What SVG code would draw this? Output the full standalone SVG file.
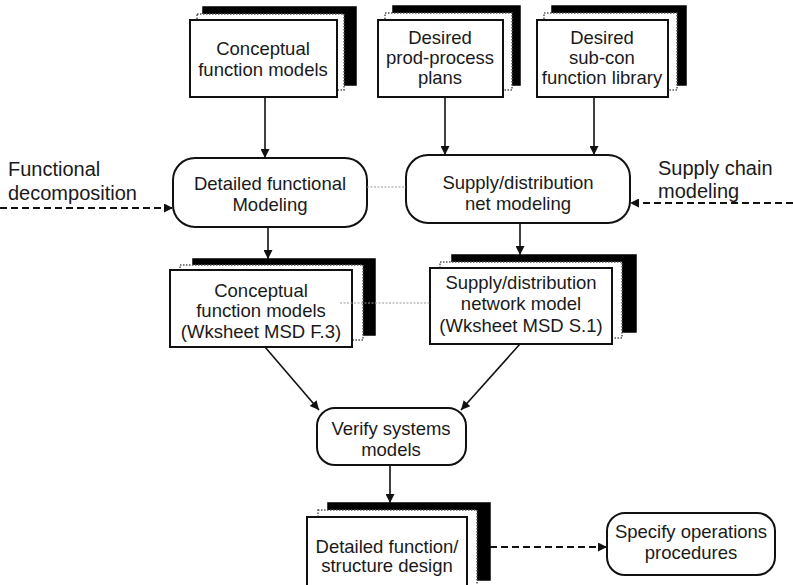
<svg xmlns="http://www.w3.org/2000/svg" width="793" height="585" viewBox="0 0 793 585">
  <defs>
    <style>
      .back { fill: #000; stroke: #000; stroke-width: 1.5; }
      .mid { fill: #fff; stroke: #555; stroke-width: 1.5; stroke-dasharray: 1.5 1.5; }
      .front { fill: #fff; stroke: #111; stroke-width: 2; }
      .round { fill: #fff; stroke: #111; stroke-width: 2; }
      .t { font-family: "Liberation Sans", Arial, sans-serif; font-size: 18.5px; fill: #1a1a1a; text-anchor: middle; }
      .side { font-family: "Liberation Sans", Arial, sans-serif; font-size: 20px; fill: #1a1a1a; }
      .arrow { fill: none; stroke: #111; stroke-width: 1.6; marker-end: url(#head); }
      .dash { fill: none; stroke: #111; stroke-width: 2; stroke-dasharray: 7 4; marker-end: url(#head); }
      .dot { fill: none; stroke: #999; stroke-width: 1.2; stroke-dasharray: 2 1.5; }
    </style>
    <marker id="head" viewBox="0 0 10 10" refX="10" refY="5" markerWidth="11" markerHeight="9" markerUnits="userSpaceOnUse" orient="auto">
      <path d="M0,0 L10,5 L0,10 z" fill="#111"/>
    </marker>
  </defs>

  <rect width="793" height="585" fill="#fff"/>

  <!-- side labels -->
  <g id="label-functional-decomposition">
    <text class="side" x="8" y="176">Functional</text>
    <text class="side" x="8" y="200">decomposition</text>
  </g>
  <g id="label-supply-chain">
    <text class="side" x="658" y="175">Supply chain</text>
    <text class="side" x="658" y="198">modeling</text>
  </g>

  <!-- document stacks and process nodes -->
  <g id="conceptual-models-in">
    <rect class="back" x="203" y="7" width="153" height="78"/>
    <rect class="mid" x="197" y="14" width="147" height="76"/>
    <rect class="front" x="190" y="20" width="147" height="77"/>
    <text class="t" x="263" y="55">Conceptual</text>
    <text class="t" x="263" y="76">function models</text>
  </g>

  <g id="prod-process-plans">
    <rect class="back" x="393" y="6" width="127" height="79"/>
    <rect class="mid" x="385" y="13" width="127" height="77"/>
    <rect class="front" x="378" y="20" width="125" height="77"/>
    <text class="t" x="440" y="44">Desired</text>
    <text class="t" x="440" y="64">prod-process</text>
    <text class="t" x="440" y="84">plans</text>
  </g>

  <g id="sub-con-library">
    <rect class="back" x="552" y="6" width="134" height="79"/>
    <rect class="mid" x="544" y="13" width="133" height="77"/>
    <rect class="front" x="537" y="20" width="131" height="77"/>
    <text class="t" x="602" y="44">Desired</text>
    <text class="t" x="602" y="64">sub-con</text>
    <text class="t" x="602" y="84">function library</text>
  </g>

  <g id="detailed-functional-modeling">
    <rect class="round" x="173" y="158" width="194" height="69" rx="22"/>
    <text class="t" x="270" y="190">Detailed functional</text>
    <text class="t" x="270" y="211">Modeling</text>
  </g>

  <g id="net-modeling">
    <rect class="round" x="406" y="155" width="224" height="68" rx="22"/>
    <text class="t" x="518" y="189">Supply/distribution</text>
    <text class="t" x="518" y="210">net modeling</text>
  </g>

  <g id="conceptual-models-f3">
    <rect class="back" x="193" y="259" width="182" height="76"/>
    <rect class="mid" x="180" y="265" width="183" height="75"/>
    <rect class="front" x="170" y="270" width="182" height="77"/>
    <text class="t" x="261" y="297">Conceptual</text>
    <text class="t" x="261" y="317">function models</text>
    <text class="t" x="261" y="338">(Wksheet MSD F.3)</text>
  </g>

  <g id="network-model-s1">
    <rect class="back" x="452" y="255" width="184" height="77"/>
    <rect class="mid" x="440" y="262" width="182" height="76"/>
    <rect class="front" x="430" y="268" width="182" height="76"/>
    <text class="t" x="521" y="289">Supply/distribution</text>
    <text class="t" x="521" y="310">network model</text>
    <text class="t" x="521" y="332">(Wksheet MSD S.1)</text>
  </g>

  <g id="verify-models">
    <rect class="round" x="317" y="408" width="149" height="57" rx="18"/>
    <text class="t" x="391" y="435">Verify systems</text>
    <text class="t" x="391" y="456">models</text>
  </g>

  <g id="function-structure-design">
    <rect class="back" x="328" y="503" width="162" height="77"/>
    <rect class="mid" x="318" y="510" width="159" height="80"/>
    <rect class="front" x="307" y="517" width="160" height="80"/>
    <text class="t" x="387" y="553">Detailed function/</text>
    <text class="t" x="387" y="572">structure design</text>
  </g>

  <g id="operations-procedures">
    <rect class="round" x="607" y="513" width="168" height="62" rx="18"/>
    <text class="t" x="691" y="538">Specify operations</text>
    <text class="t" x="691" y="559">procedures</text>
  </g>

  <!-- connectors, drawn over the stacks -->
  <g id="connectors">
    <line class="arrow" x1="265" y1="97" x2="265" y2="158"/>
    <line class="arrow" x1="445" y1="97" x2="445" y2="155"/>
    <line class="arrow" x1="594" y1="97" x2="594" y2="155"/>
    <line class="dash" x1="0" y1="208" x2="173" y2="208"/>
    <line class="dash" x1="793" y1="203" x2="630" y2="203"/>
    <line class="dot" x1="367" y1="187" x2="406" y2="187"/>
    <line class="arrow" x1="268" y1="227" x2="268" y2="259"/>
    <line class="arrow" x1="520" y1="223" x2="520" y2="255"/>
    <line class="dot" x1="340" y1="303" x2="430" y2="303"/>
    <line class="arrow" x1="265" y1="347" x2="319" y2="410"/>
    <line class="arrow" x1="520" y1="344" x2="461" y2="410"/>
    <line class="arrow" x1="390" y1="465" x2="390" y2="503"/>
    <line class="dash" x1="490" y1="547" x2="607" y2="547"/>
  </g>
</svg>
